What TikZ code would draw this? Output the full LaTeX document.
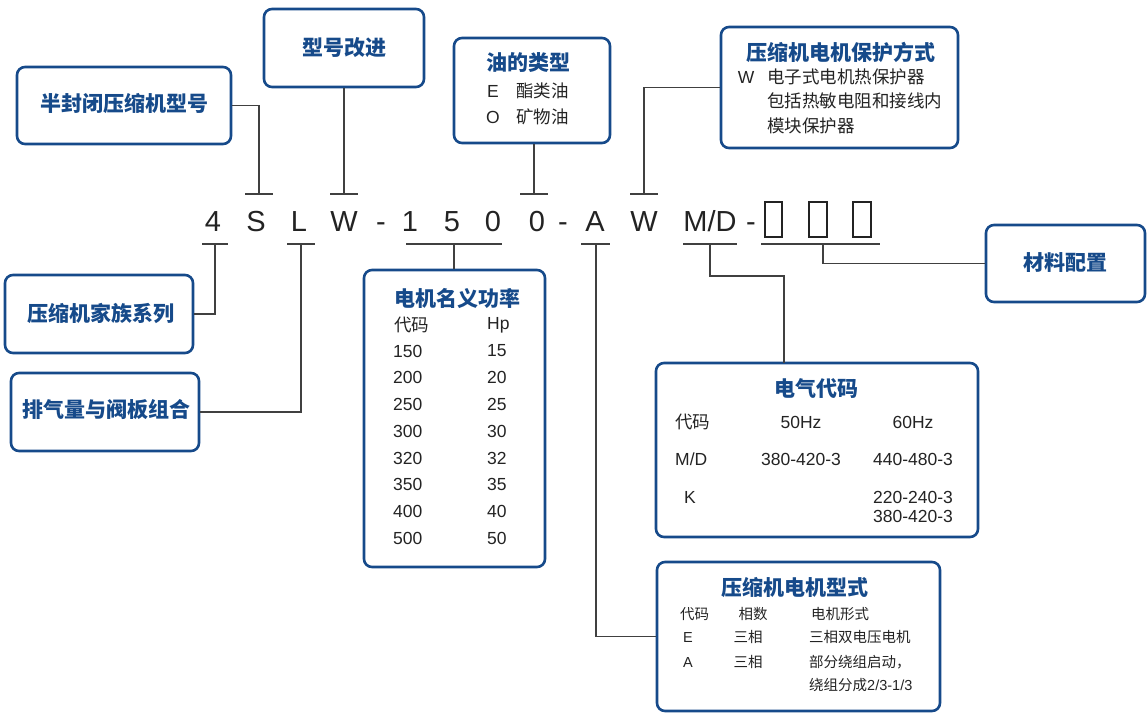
\documentclass[tikz,border=0pt]{standalone}
\usepackage{fontspec}
\setmainfont{Liberation Sans}
\newfontfamily\cjk{Noto Sans CJK SC}
\definecolor{bblue}{RGB}{22,74,138}
\definecolor{lgray}{RGB}{64,64,64}
\definecolor{tgray}{RGB}{35,35,35}
\begin{document}
\begin{tikzpicture}[x=1pt,y=-1pt,
  box/.style={draw=bblue, line width=2.6pt, rounded corners=8pt, inner sep=0pt},
  ttl/.style={text=bblue, font=\cjk\bfseries\fontsize{21}{21}\selectfont, inner sep=0pt},
  bd/.style={text=tgray, font=\fontsize{17.5}{17.5}\selectfont, inner sep=0pt},
  bs/.style={text=tgray, font=\fontsize{14.5}{14.5}\selectfont, inner sep=0pt},
  cd/.style={text=tgray, font=\fontsize{29}{29}\selectfont, anchor=base, inner sep=0pt},
  conn/.style={draw=lgray, line width=1.3pt},
  tofu/.style={draw=tgray, line width=2pt},
]
\useasboundingbox (0,0) rectangle (1147,713);

% ---------- boxes ----------
\node[box, minimum width=214pt, minimum height=77pt] (b1) at (124,105.5) {};
\node[box, minimum width=160pt, minimum height=78pt] (b2) at (344,48) {};
\node[box, minimum width=156pt, minimum height=105pt] (b3) at (532,90.5) {};
\node[box, minimum width=237pt, minimum height=121pt] (b4) at (839.5,87.5) {};
\node[box, minimum width=188pt, minimum height=78pt] (b5) at (99,314) {};
\node[box, minimum width=188pt, minimum height=78pt] (b6) at (105,412) {};
\node[box, minimum width=181pt, minimum height=297pt] (b7) at (454.5,418.5) {};
\node[box, minimum width=322pt, minimum height=174pt] (b8) at (817,450) {};
\node[box, minimum width=283pt, minimum height=149pt] (b9) at (798.5,636.5) {};
\node[box, minimum width=159pt, minimum height=77pt] (b10) at (1065.5,263.5) {};

% ---------- code line ----------
\node[cd] (c1) at (213,231) {4};
\node[cd] (c2) at (256,231) {S};
\node[cd] (c3) at (299,231) {L};
\node[cd] (c4) at (344,231) {W};
\node[cd] (c5) at (381,231) {-};
\node[cd] (c6) at (410,231) {1};
\node[cd] (c7) at (452,231) {5};
\node[cd] (c8) at (493,231) {0};
\node[cd] (c9) at (537,231) {0};
\node[cd] (c10) at (563,231) {-};
\node[cd] (c11) at (595,231) {A};
\node[cd] (c12) at (644,231) {W};
\node[cd] (c13) at (710,231) {M/D};
\node[cd] (c14) at (751,231) {-};
\draw[tofu] (765,202) rectangle (782,237);
\draw[tofu] (809,202) rectangle (827,237);
\draw[tofu] (853,202) rectangle (871,237);

% tick coordinates
\coordinate (tS) at (259,194);
\coordinate (tW) at (344,194);
\coordinate (t0) at (534,194);
\coordinate (tW2) at (644,194);
\coordinate (u4) at (215,244);
\coordinate (uL) at (301,244);
\coordinate (u150) at (454,244);
\coordinate (uA) at (596,244);
\coordinate (uMD) at (710,244);
\coordinate (uB) at (823,244);
\coordinate (k8) at (784,363);

% tick bars
\draw[conn] ([xshift=-14pt]tS) -- ([xshift=14pt]tS);
\draw[conn] ([xshift=-14pt]tW) -- ([xshift=14pt]tW);
\draw[conn] ([xshift=-14pt]t0) -- ([xshift=14pt]t0);
\draw[conn] ([xshift=-14pt]tW2) -- ([xshift=14pt]tW2);
\draw[conn] ([xshift=-13pt]u4) -- ([xshift=13pt]u4);
\draw[conn] ([xshift=-14pt]uL) -- ([xshift=14pt]uL);
\draw[conn] ([xshift=-48pt]u150) -- ([xshift=48pt]u150);
\draw[conn] ([xshift=-15pt]uA) -- ([xshift=14pt]uA);
\draw[conn] ([xshift=-27pt]uMD) -- ([xshift=27pt]uMD);
\draw[conn] ([xshift=-62pt]uB) -- ([xshift=57pt]uB);

% connectors
\draw[conn] (b1.east) -| (tS);
\draw[conn] (b2.south) -- (tW);
\draw[conn] (b3.south -| t0) -- (t0);
\draw[conn] (b4.west) -| (tW2);
\draw[conn] (u4) |- (b5.east);
\draw[conn] (uL) |- (b6.east);
\draw[conn] (u150) -- (u150 |- b7.north);
\draw[conn] (uA) |- (b9.west);
\draw[conn] (uMD) -- ++(0,32) -| (k8);
\draw[conn] (uB) |- (b10.west);

% ---------- box texts ----------
\node[ttl] (h1) at (124,103) {半封闭压缩机型号};
\node[ttl] (h2) at (344,48) {型号改进};

\node[ttl] (h3) at (528,63) {油的类型};
\node[bd] (o1) at (493,91) {E};
\node[bd, anchor=west] (o2) at (516,91) {\cjk 酯类油};
\node[bd] (o3) at (493,117) {O};
\node[bd, anchor=west] (o4) at (516,117) {\cjk 矿物油};

\node[ttl] (h4) at (841,52) {压缩机电机保护方式};
\node[bd] (p1) at (746,77) {W};
\node[bd, anchor=west] (p2) at (767,77) {\cjk 电子式电机热保护器};
\node[bd, anchor=west] (p3) at (767,101) {\cjk 包括热敏电阻和接线内};
\node[bd, anchor=west] (p4) at (767,126) {\cjk 模块保护器};

\node[ttl] (h5) at (101,313) {压缩机家族系列};
\node[ttl] (h6) at (106,410) {排气量与阀板组合};
\node[ttl] (h10) at (1065,263) {材料配置};

% power table
\node[ttl] (h7) at (457,298) {电机名义功率};
\node[bd, anchor=west] (r0a) at (394,325) {\cjk 代码};
\node[bd, anchor=west] (r0b) at (487,325) {Hp};
\foreach \a/\b/\y [count=\i] in {150/15/351,200/20/377.5,250/25/404,300/30/431,320/32/458,350/35/484.5,400/40/511,500/50/538}{
  \node[bd, anchor=west] (ra\i) at (393,\y) {\a};
  \node[bd, anchor=west] (rb\i) at (487,\y) {\b};
}

% electrical code
\node[ttl] (h8) at (816,389) {电气代码};
\node[bd, anchor=west] (e1) at (675,422) {\cjk 代码};
\node[bd] (e2) at (801,422) {50Hz};
\node[bd] (e3) at (913,422) {60Hz};
\node[bd, anchor=west] (e4) at (675,459) {M/D};
\node[bd] (e5) at (801,459) {380-420-3};
\node[bd] (e6) at (913,459) {440-480-3};
\node[bd] (e7) at (690,497) {K};
\node[bd] (e8) at (913,497) {220-240-3};
\node[bd] (e9) at (913,516) {380-420-3};

% motor type
\node[ttl] (h9) at (795,587) {压缩机电机型式};
\node[bs, anchor=west] (m1) at (680,614) {\cjk 代码};
\node[bs] (m2) at (753,614) {\cjk 相数};
\node[bs, anchor=west] (m3) at (811,614) {\cjk 电机形式};
\node[bs] (m4) at (688,637) {E};
\node[bs] (m5) at (748,637) {\cjk 三相};
\node[bs, anchor=west] (m6) at (809,637) {\cjk 三相双电压电机};
\node[bs] (m7) at (688,662) {A};
\node[bs] (m8) at (748,662) {\cjk 三相};
\node[bs, anchor=west] (m9) at (809,662) {\cjk 部分绕组启动，};
\node[bs, anchor=west] (m10) at (809,685) {{\cjk 绕组分成}2/3-1/3};
\end{tikzpicture}
\end{document}
